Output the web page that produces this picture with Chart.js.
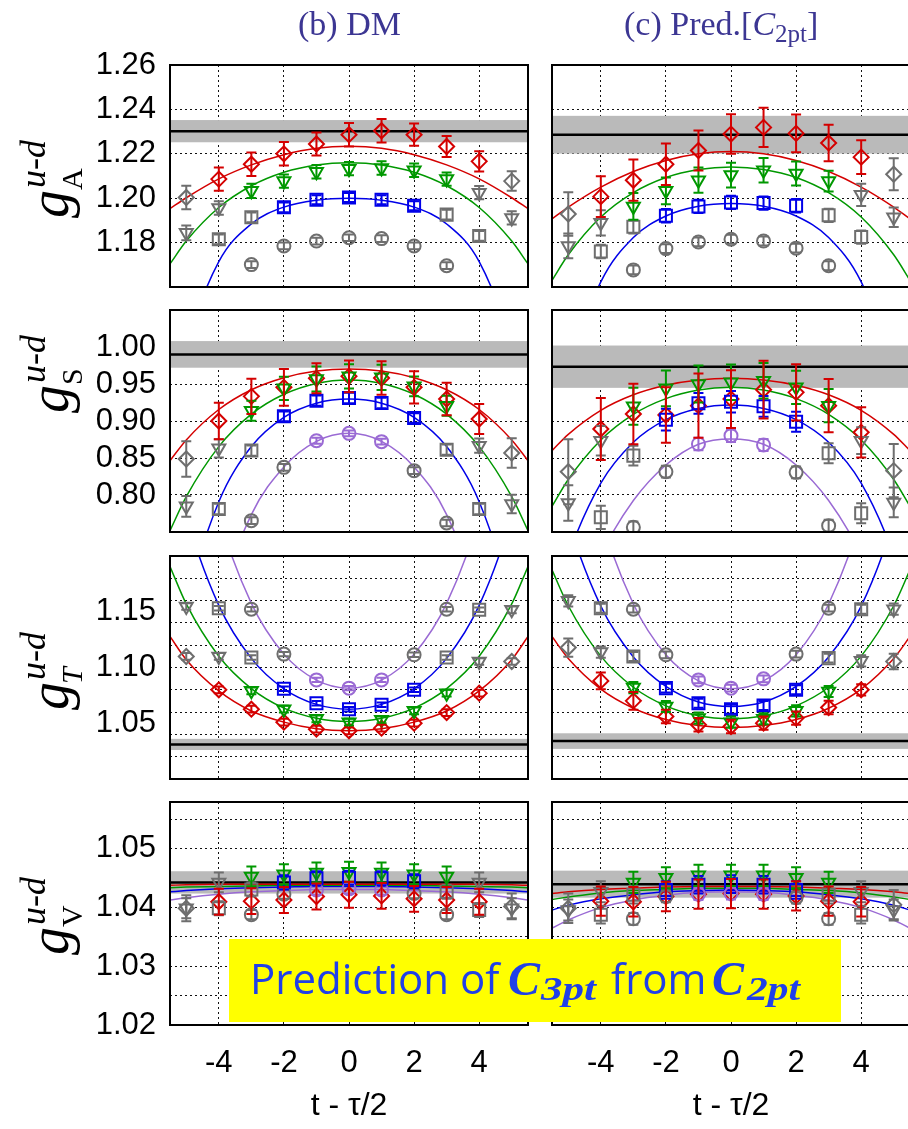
<!DOCTYPE html>
<html>
<head>
<meta charset="utf-8">
<script src="https://cdn.jsdelivr.net/npm/chart.js@4.4.1/dist/chart.umd.min.js"></script>
<style>
  html, body { margin: 0; padding: 0; background: #fff; }
  #stage { position: relative; width: 908px; height: 1129px; overflow: hidden; background: #fff; }
  #stage canvas { position: absolute; }
  #overlay { position: absolute; left: 0; top: 0; }
</style>
</head>
<body>
<div id="stage">
<svg id="overlay" width="908" height="1129" xmlns="http://www.w3.org/2000/svg">
  <!-- column titles -->
  <text x="298" y="35" font-family="Liberation Serif" font-size="34" fill="#3c3693">(b) DM</text>
  <text x="624" y="35" font-family="Liberation Serif" font-size="34" fill="#3c3693">(c) Pred.[<tspan font-style="italic">C</tspan><tspan font-size="25" dy="7">2pt</tspan><tspan dy="-7">]</tspan></text>

  <!-- row labels -->
  <g font-family="Liberation Serif" fill="#000">
    <g transform="translate(18,218) rotate(-90)">
      <text x="0" y="50" font-style="italic" font-size="56">g</text>
      <text x="30" y="27" font-style="italic" font-size="36">u-d</text>
      <text x="28" y="64" font-size="30">A</text>
    </g>
    <g transform="translate(18,413) rotate(-90)">
      <text x="0" y="50" font-style="italic" font-size="56">g</text>
      <text x="30" y="27" font-style="italic" font-size="36">u-d</text>
      <text x="28" y="64" font-size="30">S</text>
    </g>
    <g transform="translate(18,710) rotate(-90)">
      <text x="0" y="50" font-style="italic" font-size="56">g</text>
      <text x="30" y="27" font-style="italic" font-size="36">u-d</text>
      <text x="26" y="64" font-style="italic" font-size="30">T</text>
    </g>
    <g transform="translate(18,955) rotate(-90)">
      <text x="0" y="50" font-style="italic" font-size="56">g</text>
      <text x="30" y="27" font-style="italic" font-size="36">u-d</text>
      <text x="28" y="64" font-size="30">V</text>
    </g>
  </g>

  <!-- axis titles -->
  <text x="349" y="1115" text-anchor="middle" font-family="Liberation Sans" font-size="32" fill="#000">t - τ/2</text>
  <text x="731" y="1115" text-anchor="middle" font-family="Liberation Sans" font-size="32" fill="#000">t - τ/2</text>

  <!-- highlighted note -->
  <rect x="229" y="939" width="612" height="83" fill="#ffff00"/>
  <g fill="#2040e8">
    <text x="250" y="994" font-family="Open Sans" font-size="42">Prediction of</text>
    <text x="508" y="995" font-family="Liberation Serif" font-weight="bold" font-style="italic" font-size="48">C</text>
    <text x="541" y="1000" font-family="Liberation Serif" font-weight="bold" font-style="italic" font-size="33" textLength="55" lengthAdjust="spacingAndGlyphs">3pt</text>
    <text x="611" y="994" font-family="Open Sans" font-size="42">from</text>
    <text x="712" y="995" font-family="Liberation Serif" font-weight="bold" font-style="italic" font-size="48">C</text>
    <text x="747" y="1000" font-family="Liberation Serif" font-weight="bold" font-style="italic" font-size="33" textLength="53" lengthAdjust="spacingAndGlyphs">2pt</text>
  </g>
</svg>
</div>

<script>
// ---- sampling positions (t - tau/2) ----
const tDiamond  = [-5, -4, -3, -2, -1, 0, 1, 2, 3, 4, 5];
const tTriangle = [-5, -4, -3, -2, -1, 0, 1, 2, 3, 4, 5];
const tSquare   = [-4, -3, -2, -1, 0, 1, 2, 3, 4];
const tCircle   = [-3, -2, -1, 0, 1, 2, 3];
const tCurve    = [-5.5, -5, -4, -3, -2, -1, 0, 1, 2, 3, 4, 5, 5.5];
const xTickValues = [-4, -2, 0, 2, 4];

// ---- g_A, DM ----
const gA_DM_dia     = [1.2003, 1.2086, 1.2153, 1.2200, 1.2244, 1.2286, 1.2304, 1.2286, 1.2233, 1.2166, 1.2077];
const gA_DM_diaErr  = [0.0053, 0.0052, 0.0053, 0.0053, 0.0052, 0.0053, 0.0053, 0.0050, 0.0047, 0.0046, 0.0044];
const gA_DM_tri     = [1.1844, 1.1956, 1.2033, 1.2077, 1.2119, 1.2133, 1.2136, 1.2126, 1.2086, 1.2025, 1.1911];
const gA_DM_triErr  = [0.0033, 0.0030, 0.0032, 0.0030, 0.0030, 0.0030, 0.0030, 0.0030, 0.0030, 0.0030, 0.0030];
const gA_DM_sq      = [1.1815, 1.1914, 1.1959, 1.1993, 1.2003, 1.1993, 1.1966, 1.1926, 1.1830];
const gA_DM_sqErr   = [0.0022, 0.0022, 0.0022, 0.0020, 0.0020, 0.0020, 0.0020, 0.0022, 0.0022];
const gA_DM_circ    = [1.1701, 1.1785, 1.1807, 1.1822, 1.1818, 1.1785, 1.1696];
const gA_DM_circErr = [0.0015, 0.0015, 0.0015, 0.0015, 0.0015, 0.0015, 0.0015];
const gA_DM_band    = [1.2302, 0.0050];
const gA_DM_fitRed   = [1.1953, 1.2002, 1.2087, 1.2150, 1.2196, 1.2225, 1.2234, 1.2225, 1.2196, 1.2150, 1.2087, 1.2002, 1.1953];
const gA_DM_fitGreen = [1.1704, 1.1807, 1.1958, 1.2056, 1.2117, 1.2150, 1.2160, 1.2150, 1.2117, 1.2056, 1.1958, 1.1807, 1.1704];
const gA_DM_fitBlue  = [1.0990, 1.1330, 1.1714, 1.1884, 1.1960, 1.1991, 1.2000, 1.1991, 1.1960, 1.1884, 1.1714, 1.1330, 1.0990];

// ---- g_A, prediction from C2pt ----
const gA_PR_dia     = [1.1929, 1.2007, 1.2081, 1.2153, 1.2215, 1.2289, 1.2319, 1.2292, 1.2249, 1.2185, 1.2108];
const gA_PR_diaErr  = [0.0098, 0.0092, 0.0093, 0.0093, 0.0090, 0.0089, 0.0088, 0.0085, 0.0082, 0.0076, 0.0072];
const gA_PR_tri     = [1.1785, 1.1889, 1.1963, 1.2033, 1.2081, 1.2104, 1.2126, 1.2111, 1.2077, 1.2015, 1.1914];
const gA_PR_triErr  = [0.0056, 0.0057, 0.0060, 0.0060, 0.0057, 0.0056, 0.0055, 0.0054, 0.0047, 0.0050, 0.0044];
const gA_PR_sq      = [1.1760, 1.1871, 1.1921, 1.1963, 1.1981, 1.1978, 1.1966, 1.1923, 1.1825];
const gA_PR_sqErr   = [0.0030, 0.0030, 0.0030, 0.0030, 0.0030, 0.0030, 0.0030, 0.0030, 0.0030];
const gA_PR_circ    = [1.1677, 1.1773, 1.1803, 1.1815, 1.1807, 1.1775, 1.1696];
const gA_PR_circErr = [0.0020, 0.0020, 0.0020, 0.0020, 0.0020, 0.0020, 0.0020];
const gA_PR_band    = [1.2286, 0.0085];
const gA_PR_fitRed   = [1.1907, 1.1960, 1.2050, 1.2120, 1.2170, 1.2200, 1.2210, 1.2200, 1.2170, 1.2120, 1.2050, 1.1960, 1.1907];
const gA_PR_fitGreen = [1.1630, 1.1745, 1.1915, 1.2025, 1.2093, 1.2129, 1.2141, 1.2129, 1.2093, 1.2025, 1.1915, 1.1745, 1.1630];
const gA_PR_fitBlue  = [1.0880, 1.1218, 1.1623, 1.1823, 1.1920, 1.1964, 1.1976, 1.1964, 1.1920, 1.1823, 1.1623, 1.1218, 1.0880];

// ---- g_S, DM ----
const gS_DM_dia     = [0.8486, 0.9000, 0.9333, 0.9455, 0.9577, 0.9604, 0.9581, 0.9455, 0.9297, 0.9027, 0.8568];
const gS_DM_diaErr  = [0.0240, 0.0248, 0.0237, 0.0248, 0.0203, 0.0214, 0.0225, 0.0218, 0.0220, 0.0203, 0.0200];
const gS_DM_tri     = [0.7847, 0.8631, 0.9140, 0.9441, 0.9568, 0.9604, 0.9590, 0.9468, 0.9207, 0.8667, 0.7878];
const gS_DM_triErr  = [0.0140, 0.0124, 0.0135, 0.0158, 0.0170, 0.0164, 0.0170, 0.0135, 0.0135, 0.0095, 0.0124];
const gS_DM_sq      = [0.7811, 0.8600, 0.9063, 0.9275, 0.9311, 0.9243, 0.9040, 0.8613, 0.7811];
const gS_DM_sqErr   = [0.0070, 0.0070, 0.0065, 0.0070, 0.0070, 0.0070, 0.0065, 0.0070, 0.0070];
const gS_DM_circ    = [0.7653, 0.8374, 0.8734, 0.8833, 0.8721, 0.8329, 0.7622];
const gS_DM_circErr = [0.0045, 0.0045, 0.0040, 0.0040, 0.0040, 0.0045, 0.0045];
const gS_DM_band    = [0.9900, 0.0180];
const gS_DM_fitRed    = [0.8464, 0.8744, 0.9155, 0.9422, 0.9585, 0.9675, 0.9703, 0.9675, 0.9585, 0.9422, 0.9155, 0.8744, 0.8464];
const gS_DM_fitGreen  = [0.7518, 0.7978, 0.8654, 0.9092, 0.9361, 0.9508, 0.9554, 0.9508, 0.9361, 0.9092, 0.8654, 0.7978, 0.7518];
const gS_DM_fitBlue   = [0.5470, 0.6535, 0.7909, 0.8655, 0.9050, 0.9241, 0.9297, 0.9241, 0.9050, 0.8655, 0.7909, 0.6535, 0.5470];
const gS_DM_fitPurple = [0.2800, 0.4408, 0.6533, 0.7735, 0.8380, 0.8725, 0.8833, 0.8725, 0.8380, 0.7735, 0.6533, 0.4408, 0.2800];

// ---- g_S, prediction from C2pt ----
const gS_PR_dia     = [0.8315, 0.8892, 0.9095, 0.9081, 0.9207, 0.9297, 0.9423, 0.9387, 0.9207, 0.8847, 0.8329];
const gS_PR_diaErr  = [0.0440, 0.0420, 0.0410, 0.0376, 0.0435, 0.0390, 0.0390, 0.0380, 0.0360, 0.0340, 0.0360];
const gS_PR_tri     = [0.7892, 0.8734, 0.9198, 0.9441, 0.9500, 0.9523, 0.9545, 0.9455, 0.9207, 0.8734, 0.7900];
const gS_PR_triErr  = [0.0240, 0.0200, 0.0250, 0.0243, 0.0250, 0.0240, 0.0240, 0.0225, 0.0225, 0.0180, 0.0200];
const gS_PR_sq      = [0.7698, 0.8532, 0.9018, 0.9239, 0.9261, 0.9198, 0.8991, 0.8563, 0.7752];
const gS_PR_sqErr   = [0.0158, 0.0135, 0.0146, 0.0140, 0.0146, 0.0140, 0.0135, 0.0135, 0.0135];
const gS_PR_circ    = [0.7563, 0.8315, 0.8689, 0.8802, 0.8676, 0.8306, 0.7586];
const gS_PR_circErr = [0.0080, 0.0080, 0.0083, 0.0086, 0.0080, 0.0080, 0.0080];
const gS_PR_band    = [0.9734, 0.0286];
const gS_PR_fitRed    = [0.8599, 0.8820, 0.9145, 0.9355, 0.9484, 0.9555, 0.9577, 0.9555, 0.9484, 0.9355, 0.9145, 0.8820, 0.8599];
const gS_PR_fitGreen  = [0.7847, 0.8210, 0.8744, 0.9090, 0.9302, 0.9418, 0.9455, 0.9418, 0.9302, 0.9090, 0.8744, 0.8210, 0.7847];
const gS_PR_fitBlue   = [0.6457, 0.7185, 0.8160, 0.8712, 0.9018, 0.9170, 0.9216, 0.9170, 0.9018, 0.8712, 0.8160, 0.7185, 0.6457];
const gS_PR_fitPurple = [0.5690, 0.6217, 0.7200, 0.7925, 0.8405, 0.8685, 0.8757, 0.8685, 0.8405, 0.7925, 0.7200, 0.6217, 0.5690];

// ---- g_T, DM ----
const gT_DM_dia     = [1.1099, 1.0800, 1.0626, 1.0510, 1.0447, 1.0432, 1.0456, 1.0501, 1.0596, 1.0770, 1.1054];
const gT_DM_diaErr  = [0.0030, 0.0030, 0.0030, 0.0030, 0.0030, 0.0030, 0.0030, 0.0030, 0.0030, 0.0030, 0.0030];
const gT_DM_tri     = [1.1547, 1.1099, 1.0791, 1.0626, 1.0540, 1.0510, 1.0531, 1.0611, 1.0770, 1.1054, 1.1517];
const gT_DM_triErr  = [0.0030, 0.0030, 0.0030, 0.0030, 0.0030, 0.0030, 0.0030, 0.0030, 0.0030, 0.0030, 0.0030];
const gT_DM_sq      = [1.1532, 1.1090, 1.0809, 1.0680, 1.0626, 1.0665, 1.0800, 1.1090, 1.1517];
const gT_DM_sqErr   = [0.0020, 0.0020, 0.0020, 0.0020, 0.0020, 0.0020, 0.0020, 0.0020, 0.0020];
const gT_DM_circ    = [1.1523, 1.1120, 1.0889, 1.0815, 1.0889, 1.1114, 1.1523];
const gT_DM_circErr = [0.0020, 0.0020, 0.0020, 0.0020, 0.0020, 0.0020, 0.0020];
const gT_DM_band    = [1.0310, 0.0050];
const gT_DM_fitRed    = [1.1278, 1.1070, 1.0790, 1.0610, 1.0510, 1.0450, 1.0432, 1.0450, 1.0510, 1.0610, 1.0790, 1.1070, 1.1278];
const gT_DM_fitGreen  = [1.1906, 1.1570, 1.1101, 1.0811, 1.0636, 1.0545, 1.0516, 1.0545, 1.0636, 1.0811, 1.1101, 1.1570, 1.1906];
const gT_DM_fitBlue   = [1.2938, 1.2356, 1.1557, 1.1082, 1.0809, 1.0669, 1.0626, 1.0669, 1.0809, 1.1082, 1.1557, 1.2356, 1.2938];
const gT_DM_fitPurple = [1.4670, 1.3700, 1.2367, 1.1575, 1.1120, 1.0887, 1.0815, 1.0887, 1.1120, 1.1575, 1.2367, 1.3700, 1.4670];

// ---- g_T, prediction from C2pt ----
const gT_PR_dia     = [1.1179, 1.0880, 1.0701, 1.0560, 1.0486, 1.0471, 1.0501, 1.0546, 1.0641, 1.0800, 1.1054];
const gT_PR_diaErr  = [0.0082, 0.0075, 0.0080, 0.0060, 0.0060, 0.0060, 0.0060, 0.0060, 0.0060, 0.0050, 0.0070];
const gT_PR_tri     = [1.1598, 1.1138, 1.0820, 1.0650, 1.0546, 1.0510, 1.0540, 1.0611, 1.0785, 1.1060, 1.1523];
const gT_PR_triErr  = [0.0050, 0.0050, 0.0050, 0.0050, 0.0050, 0.0050, 0.0050, 0.0050, 0.0050, 0.0050, 0.0050];
const gT_PR_sq      = [1.1532, 1.1099, 1.0815, 1.0680, 1.0626, 1.0659, 1.0800, 1.1084, 1.1523];
const gT_PR_sqErr   = [0.0040, 0.0040, 0.0040, 0.0040, 0.0040, 0.0040, 0.0040, 0.0040, 0.0040];
const gT_PR_circ    = [1.1523, 1.1114, 1.0889, 1.0815, 1.0898, 1.1120, 1.1532];
const gT_PR_circErr = [0.0030, 0.0030, 0.0030, 0.0030, 0.0030, 0.0030, 0.0030];
const gT_PR_band    = [1.0340, 0.0070];
const gT_PR_fitRed    = [1.1278, 1.1081, 1.0806, 1.0635, 1.0533, 1.0479, 1.0462, 1.0479, 1.0533, 1.0635, 1.0806, 1.1081, 1.1278];
const gT_PR_fitGreen  = [1.1876, 1.1554, 1.1102, 1.0823, 1.0656, 1.0567, 1.0540, 1.0567, 1.0656, 1.0823, 1.1102, 1.1554, 1.1876];
const gT_PR_fitBlue   = [1.2900, 1.2320, 1.1550, 1.1095, 1.0830, 1.0690, 1.0650, 1.0690, 1.0830, 1.1095, 1.1550, 1.2320, 1.2900];
const gT_PR_fitPurple = [1.4670, 1.3700, 1.2360, 1.1570, 1.1114, 1.0880, 1.0809, 1.0880, 1.1114, 1.1570, 1.2360, 1.3700, 1.4670];

// ---- g_V, DM ----
const gV_DM_dia     = [1.0399, 1.0410, 1.0411, 1.0413, 1.0419, 1.0422, 1.0420, 1.0415, 1.0413, 1.0410, 1.0402];
const gV_DM_diaErr  = [0.0022, 0.0022, 0.0022, 0.0022, 0.0022, 0.0022, 0.0022, 0.0022, 0.0022, 0.0022, 0.0022];
const gV_DM_tri     = [1.0399, 1.0443, 1.0453, 1.0457, 1.0460, 1.0461, 1.0460, 1.0457, 1.0453, 1.0443, 1.0399];
const gV_DM_triErr  = [0.0017, 0.0017, 0.0017, 0.0017, 0.0017, 0.0017, 0.0017, 0.0017, 0.0017, 0.0017, 0.0017];
const gV_DM_sq      = [1.0399, 1.0431, 1.0443, 1.0450, 1.0451, 1.0450, 1.0445, 1.0427, 1.0396];
const gV_DM_sqErr   = [0.0012, 0.0012, 0.0012, 0.0012, 0.0012, 0.0012, 0.0012, 0.0012, 0.0012];
const gV_DM_circ    = [1.0388, 1.0423, 1.0430, 1.0432, 1.0430, 1.0424, 1.0388];
const gV_DM_circErr = [0.0008, 0.0008, 0.0008, 0.0008, 0.0008, 0.0008, 0.0008];
const gV_DM_band    = [1.0443, 0.0019];
const gV_DM_fitRed    = [1.0438, 1.0439, 1.0440, 1.0440, 1.0440, 1.0440, 1.0440, 1.0440, 1.0440, 1.0440, 1.0440, 1.0439, 1.0438];
const gV_DM_fitGreen  = [1.0434, 1.0435, 1.0436, 1.0437, 1.0438, 1.0438, 1.0438, 1.0438, 1.0438, 1.0437, 1.0436, 1.0435, 1.0434];
const gV_DM_fitBlue   = [1.0427, 1.0429, 1.0432, 1.0434, 1.0435, 1.0436, 1.0436, 1.0436, 1.0435, 1.0434, 1.0432, 1.0429, 1.0427];
const gV_DM_fitPurple = [1.0413, 1.0417, 1.0423, 1.0427, 1.0429, 1.0431, 1.0431, 1.0431, 1.0429, 1.0427, 1.0423, 1.0417, 1.0413];

// ---- g_V, prediction from C2pt ----
const gV_PR_dia     = [1.0399, 1.0411, 1.0410, 1.0419, 1.0423, 1.0424, 1.0423, 1.0420, 1.0411, 1.0410, 1.0405];
const gV_PR_diaErr  = [0.0025, 0.0025, 0.0025, 0.0025, 0.0025, 0.0025, 0.0025, 0.0025, 0.0025, 0.0025, 0.0025];
const gV_PR_tri     = [1.0396, 1.0427, 1.0443, 1.0451, 1.0455, 1.0455, 1.0455, 1.0451, 1.0443, 1.0427, 1.0396];
const gV_PR_triErr  = [0.0018, 0.0018, 0.0018, 0.0018, 0.0018, 0.0018, 0.0018, 0.0018, 0.0018, 0.0018, 0.0018];
const gV_PR_sq      = [1.0388, 1.0422, 1.0430, 1.0439, 1.0440, 1.0439, 1.0430, 1.0422, 1.0388];
const gV_PR_sqErr   = [0.0015, 0.0015, 0.0015, 0.0015, 0.0015, 0.0015, 0.0015, 0.0015, 0.0015];
const gV_PR_circ    = [1.0381, 1.0419, 1.0423, 1.0424, 1.0423, 1.0417, 1.0381];
const gV_PR_circErr = [0.0010, 0.0010, 0.0010, 0.0010, 0.0010, 0.0010, 0.0010];
const gV_PR_band    = [1.0440, 0.0023];
const gV_PR_fitRed    = [1.0424, 1.0427, 1.0431, 1.0433, 1.0435, 1.0436, 1.0436, 1.0436, 1.0435, 1.0433, 1.0431, 1.0427, 1.0424];
const gV_PR_fitGreen  = [1.0414, 1.0418, 1.0425, 1.0429, 1.0431, 1.0433, 1.0433, 1.0433, 1.0431, 1.0429, 1.0425, 1.0418, 1.0414];
const gV_PR_fitBlue   = [1.0396, 1.0404, 1.0415, 1.0422, 1.0427, 1.0429, 1.0430, 1.0429, 1.0427, 1.0422, 1.0415, 1.0404, 1.0396];
const gV_PR_fitPurple = [1.0365, 1.0379, 1.0400, 1.0413, 1.0421, 1.0426, 1.0427, 1.0426, 1.0421, 1.0413, 1.0400, 1.0379, 1.0365];

// ---- y axes: ranges, grid values and labelled values per row ----
const gA_range = [1.16, 1.26];
const gA_grid  = [1.18, 1.20, 1.22, 1.24, 1.26];
const gA_labels = [1.18, 1.20, 1.22, 1.24, 1.26];
const gS_range = [0.75, 1.05];
const gS_grid  = [0.80, 0.85, 0.90, 0.95, 1.00];
const gS_labels = [0.80, 0.85, 0.90, 0.95, 1.00];
const gT_range = [1.00, 1.20];
const gT_grid  = [1.02, 1.04, 1.06, 1.08, 1.10, 1.12, 1.14, 1.16, 1.18];
const gT_labels = [1.05, 1.10, 1.15];
const gV_range = [1.02, 1.058];
const gV_grid  = [1.025, 1.030, 1.035, 1.040, 1.045, 1.050, 1.055];
const gV_labels = [1.02, 1.03, 1.04, 1.05];

// ---- styling ----
const COLORS = { red: '#d40000', green: '#009800', blue: '#0000e8', purple: '#9a6ad4', gray: '#6e6e6e' };
const MARKERS = {
  diamond:  { style: 'rectRot',  radius: 7.5, rotation: 0,   color: 'red',    t: tDiamond,  fitReach: 4 },
  triangle: { style: 'triangle', radius: 7.5, rotation: 180, color: 'green',  t: tTriangle, fitReach: 3 },
  square:   { style: 'rect',     radius: 8.5, rotation: 0,   color: 'blue',   t: tSquare,   fitReach: 2 },
  circle:   { style: 'circle',   radius: 6.5, rotation: 0,   color: 'purple', t: tCircle,   fitReach: 1 }
};

// panel frames in page pixels
const COL_LEFT = [170, 552];
const PANEL_W = 358;
const ROW_TOP = [65, 310, 556, 802];
const ROW_H = [222, 222, 223, 223];

function markerDataset(kind, values, errs, fitted) {
  const m = MARKERS[kind];
  const cols = m.t.map(t => (fitted && Math.abs(t) <= m.fitReach) ? COLORS[m.color] : COLORS.gray);
  return {
    data: m.t.map((t, i) => ({ x: t, y: values[i] })),
    errors: errs,
    barColors: cols,
    showLine: false,
    pointStyle: m.style,
    pointRadius: m.radius,
    pointHoverRadius: m.radius,
    pointRotation: m.rotation,
    pointBorderColor: cols,
    pointBackgroundColor: 'rgba(0,0,0,0)',
    pointBorderWidth: 2,
    order: 1
  };
}

function curveDataset(values, color) {
  return {
    data: tCurve.map((t, i) => ({ x: t, y: values[i] })),
    showLine: true,
    borderColor: color,
    borderWidth: 1.5,
    pointRadius: 0,
    cubicInterpolationMode: 'monotone',
    fill: false,
    order: 5
  };
}

const near = (a, b) => Math.abs(a - b) < 1e-7;

const panelDecor = {
  id: 'panelDecor',
  beforeDatasetsDraw(chart, args, opts) {
    const { ctx, chartArea: a } = chart;
    const y = chart.scales.y;
    ctx.save();
    ctx.beginPath();
    ctx.rect(a.left, a.top, a.width, a.height);
    ctx.clip();
    const yHi = y.getPixelForValue(opts.band[0] + opts.band[1]);
    const yLo = y.getPixelForValue(opts.band[0] - opts.band[1]);
    ctx.fillStyle = '#bababa';
    ctx.fillRect(a.left, yHi, a.width, yLo - yHi);
    const yc = y.getPixelForValue(opts.band[0]);
    ctx.strokeStyle = '#000';
    ctx.lineWidth = 2.5;
    ctx.beginPath();
    ctx.moveTo(a.left, yc);
    ctx.lineTo(a.right, yc);
    ctx.stroke();
    ctx.restore();
  },
  afterDatasetsDraw(chart) {
    const { ctx, chartArea: a } = chart;
    const y = chart.scales.y;
    ctx.save();
    ctx.beginPath();
    ctx.rect(a.left, a.top, a.width, a.height);
    ctx.clip();
    ctx.lineWidth = 2;
    chart.data.datasets.forEach((ds, di) => {
      if (!ds.errors) return;
      const meta = chart.getDatasetMeta(di);
      meta.data.forEach((pt, j) => {
        const v = ds.data[j].y, e = ds.errors[j];
        const p1 = y.getPixelForValue(v + e), p2 = y.getPixelForValue(v - e);
        const px = pt.x;
        ctx.strokeStyle = ds.barColors[j];
        ctx.beginPath();
        ctx.moveTo(px, p1); ctx.lineTo(px, p2);
        ctx.moveTo(px - 5, p1); ctx.lineTo(px + 5, p1);
        ctx.moveTo(px - 5, p2); ctx.lineTo(px + 5, p2);
        ctx.stroke();
      });
    });
    ctx.restore();
    ctx.save();
    ctx.strokeStyle = '#000';
    ctx.lineWidth = 2;
    ctx.strokeRect(a.left, a.top, a.width, a.height);
    ctx.restore();
  }
};

function makePanel(row, col, axis, series) {
  const PAD = 40;
  const xAxisH = row === 3 ? 100 : 40;
  const yAxisW = col === 0 ? 110 : 0;
  const left = col === 0 ? COL_LEFT[0] - yAxisW : COL_LEFT[1] - PAD;
  const width = (col === 0 ? yAxisW : PAD) + PANEL_W + PAD;
  const top = ROW_TOP[row] - PAD;
  const height = PAD + ROW_H[row] + xAxisH;

  const canvas = document.createElement('canvas');
  canvas.width = width; canvas.height = height;
  canvas.style.left = left + 'px'; canvas.style.top = top + 'px';
  canvas.style.width = width + 'px'; canvas.style.height = height + 'px';
  document.getElementById('stage').insertBefore(canvas, document.getElementById('overlay'));

  const yTickVals = Array.from(new Set(axis.grid.concat(axis.labels))).sort((a, b) => a - b);
  const datasets = [];
  if (series.fitRed) datasets.push(curveDataset(series.fitRed, COLORS.red));
  if (series.fitGreen) datasets.push(curveDataset(series.fitGreen, COLORS.green));
  if (series.fitBlue) datasets.push(curveDataset(series.fitBlue, COLORS.blue));
  if (series.fitPurple) datasets.push(curveDataset(series.fitPurple, COLORS.purple));
  datasets.push(markerDataset('circle', series.circ, series.circErr, !!series.fitPurple));
  datasets.push(markerDataset('square', series.sq, series.sqErr, true));
  datasets.push(markerDataset('triangle', series.tri, series.triErr, true));
  datasets.push(markerDataset('diamond', series.dia, series.diaErr, true));

  new Chart(canvas, {
    type: 'scatter',
    data: { datasets },
    plugins: [panelDecor],
    options: {
      responsive: false,
      animation: false,
      events: [],
      devicePixelRatio: 1,
      layout: { padding: { top: PAD, bottom: 0, left: col === 0 ? 0 : PAD, right: PAD } },
      elements: { line: { capBezierPoints: false } },
      plugins: {
        legend: { display: false },
        tooltip: { enabled: false },
        panelDecor: { band: series.band }
      },
      scales: {
        x: {
          type: 'linear', min: -5.5, max: 5.5,
          afterBuildTicks: s => { s.ticks = xTickValues.map(v => ({ value: v })); },
          afterFit: s => { s.height = xAxisH; },
          ticks: {
            display: row === 3, autoSkip: false, maxRotation: 0, padding: 20,
            font: { family: 'Liberation Sans', size: 31 }, color: '#000',
            callback: v => String(v)
          },
          grid: { color: '#111', lineWidth: 1, drawTicks: false },
          border: { display: false, dash: [2, 3] }
        },
        y: {
          type: 'linear', min: axis.range[0], max: axis.range[1],
          afterBuildTicks: s => { s.ticks = yTickVals.map(v => ({ value: v })); },
          afterFit: s => { s.width = yAxisW; },
          ticks: {
            display: col === 0, autoSkip: false, padding: 14,
            font: { family: 'Liberation Sans', size: 31 }, color: '#000',
            callback: v => axis.labels.some(l => near(l, v)) ? v.toFixed(2) : ''
          },
          grid: {
            color: c => axis.grid.some(g => near(g, c.tick.value)) ? '#111' : 'rgba(0,0,0,0)',
            lineWidth: 1, drawTicks: false
          },
          border: { display: false, dash: [2, 3] }
        }
      }
    }
  });
}

const axisA = { range: gA_range, grid: gA_grid, labels: gA_labels };
const axisS = { range: gS_range, grid: gS_grid, labels: gS_labels };
const axisT = { range: gT_range, grid: gT_grid, labels: gT_labels };
const axisV = { range: gV_range, grid: gV_grid, labels: gV_labels };

makePanel(0, 0, axisA, { dia: gA_DM_dia, diaErr: gA_DM_diaErr, tri: gA_DM_tri, triErr: gA_DM_triErr, sq: gA_DM_sq, sqErr: gA_DM_sqErr, circ: gA_DM_circ, circErr: gA_DM_circErr, band: gA_DM_band, fitRed: gA_DM_fitRed, fitGreen: gA_DM_fitGreen, fitBlue: gA_DM_fitBlue });
makePanel(0, 1, axisA, { dia: gA_PR_dia, diaErr: gA_PR_diaErr, tri: gA_PR_tri, triErr: gA_PR_triErr, sq: gA_PR_sq, sqErr: gA_PR_sqErr, circ: gA_PR_circ, circErr: gA_PR_circErr, band: gA_PR_band, fitRed: gA_PR_fitRed, fitGreen: gA_PR_fitGreen, fitBlue: gA_PR_fitBlue });
makePanel(1, 0, axisS, { dia: gS_DM_dia, diaErr: gS_DM_diaErr, tri: gS_DM_tri, triErr: gS_DM_triErr, sq: gS_DM_sq, sqErr: gS_DM_sqErr, circ: gS_DM_circ, circErr: gS_DM_circErr, band: gS_DM_band, fitRed: gS_DM_fitRed, fitGreen: gS_DM_fitGreen, fitBlue: gS_DM_fitBlue, fitPurple: gS_DM_fitPurple });
makePanel(1, 1, axisS, { dia: gS_PR_dia, diaErr: gS_PR_diaErr, tri: gS_PR_tri, triErr: gS_PR_triErr, sq: gS_PR_sq, sqErr: gS_PR_sqErr, circ: gS_PR_circ, circErr: gS_PR_circErr, band: gS_PR_band, fitRed: gS_PR_fitRed, fitGreen: gS_PR_fitGreen, fitBlue: gS_PR_fitBlue, fitPurple: gS_PR_fitPurple });
makePanel(2, 0, axisT, { dia: gT_DM_dia, diaErr: gT_DM_diaErr, tri: gT_DM_tri, triErr: gT_DM_triErr, sq: gT_DM_sq, sqErr: gT_DM_sqErr, circ: gT_DM_circ, circErr: gT_DM_circErr, band: gT_DM_band, fitRed: gT_DM_fitRed, fitGreen: gT_DM_fitGreen, fitBlue: gT_DM_fitBlue, fitPurple: gT_DM_fitPurple });
makePanel(2, 1, axisT, { dia: gT_PR_dia, diaErr: gT_PR_diaErr, tri: gT_PR_tri, triErr: gT_PR_triErr, sq: gT_PR_sq, sqErr: gT_PR_sqErr, circ: gT_PR_circ, circErr: gT_PR_circErr, band: gT_PR_band, fitRed: gT_PR_fitRed, fitGreen: gT_PR_fitGreen, fitBlue: gT_PR_fitBlue, fitPurple: gT_PR_fitPurple });
makePanel(3, 0, axisV, { dia: gV_DM_dia, diaErr: gV_DM_diaErr, tri: gV_DM_tri, triErr: gV_DM_triErr, sq: gV_DM_sq, sqErr: gV_DM_sqErr, circ: gV_DM_circ, circErr: gV_DM_circErr, band: gV_DM_band, fitRed: gV_DM_fitRed, fitGreen: gV_DM_fitGreen, fitBlue: gV_DM_fitBlue, fitPurple: gV_DM_fitPurple });
makePanel(3, 1, axisV, { dia: gV_PR_dia, diaErr: gV_PR_diaErr, tri: gV_PR_tri, triErr: gV_PR_triErr, sq: gV_PR_sq, sqErr: gV_PR_sqErr, circ: gV_PR_circ, circErr: gV_PR_circErr, band: gV_PR_band, fitRed: gV_PR_fitRed, fitGreen: gV_PR_fitGreen, fitBlue: gV_PR_fitBlue, fitPurple: gV_PR_fitPurple });
</script>
</body>
</html>
